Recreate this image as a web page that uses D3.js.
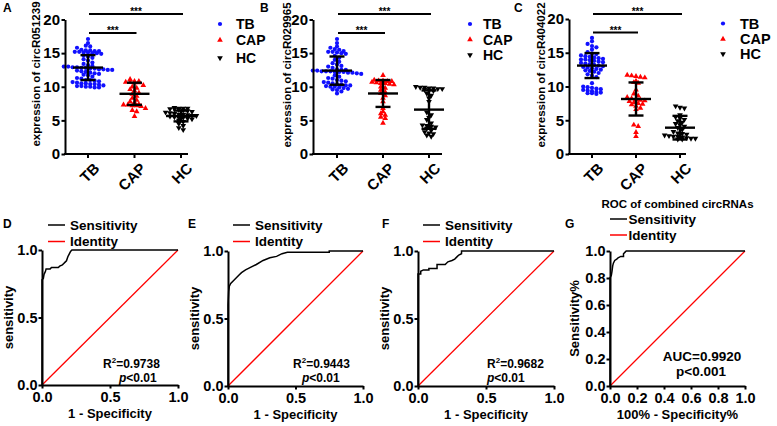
<!DOCTYPE html>
<html><head><meta charset="utf-8">
<script src="https://cdn.jsdelivr.net/npm/d3@7"></script>
<style>
body{margin:0;background:#fff}
svg{display:block}
text{font-family:"Liberation Sans",Arial,sans-serif;font-weight:bold;fill:#000}
</style>
</head><body>
<svg id="c" width="777" height="426"></svg>
<script>
// ---------------- DATA ----------------
const categories = ["TB", "CAP", "HC"];
const genes = ["circR051239", "circR029965", "circR404022"];
const yTicksTop = [0, 5, 10, 15, 20];

const aTB = [17.1,16.5,16.1,16.0,15.8,15.5,15.4,15.4,15.3,15.3,15.2,15.2,15.1,15.1,15.0,15.0,14.9,14.7,14.5,14.3,14.1,13.9,13.6,13.4,13.2,13.1,13.0,13.0,12.9,12.9,12.8,12.8,12.7,12.7,12.6,12.6,12.5,12.5,12.4,12.3,12.2,12.1,12.0,11.9,11.8,11.7,11.5,11.3,11.2,11.0,11.0,10.9,10.8,10.7,10.6,10.5,10.5,10.4,10.4,10.3,10.2,10.1,10.1,10.0,10.0,9.9,9.9];
const aCAP = [11.1,10.8,10.8,10.7,10.7,10.6,10.6,10.2,10.0,9.8,9.6,9.4,9.1,8.9,8.6,8.3,8.0,7.8,7.6,7.4,7.3,7.3,7.2,7.2,7.1,6.8,6.5,6.3,5.6];
const aHC = [6.9,6.8,6.8,6.8,6.7,6.7,6.6,6.5,6.4,6.3,6.2,6.1,6.0,5.9,5.9,5.8,5.7,5.7,5.6,5.5,5.4,5.4,5.3,5.2,5.0,4.8,4.5,4.2,3.9,3.6];

const bTB = [17.1,16.5,16.0,15.8,15.6,15.5,15.3,15.2,15.2,15.1,15.0,14.9,14.6,14.3,14.0,13.7,13.5,13.3,13.1,13.0,12.8,12.6,12.5,12.5,12.4,12.4,12.3,12.3,12.3,12.2,12.2,12.2,12.1,12.1,12.0,11.9,11.7,11.5,11.3,11.2,11.0,10.9,10.8,10.7,10.6,10.5,10.4,10.3,10.2,10.2,10.1,10.0,10.0,9.9,9.8,9.7,9.6,9.5,9.3,9.0];
const bCAP = [11.7,11.0,10.9,10.9,10.8,10.8,10.7,10.6,10.5,10.5,10.4,10.3,10.0,9.8,9.5,9.2,9.0,8.7,8.3,7.8,6.8,6.3,6.0,5.8,5.5,5.3,4.6];
const bHC = [10.0,9.9,9.9,9.8,9.8,9.7,9.7,9.6,9.5,9.4,9.0,8.7,8.3,7.8,6.2,5.8,5.4,5.1,4.6,4.3,4.2,4.1,4.0,3.8,3.5,3.3,3.1,3.0,2.8,2.6];

const cTB = [17.2,16.7,16.3,16.0,15.8,15.5,15.1,14.9,14.8,14.6,14.5,14.4,14.3,14.2,14.1,14.0,14.0,13.9,13.8,13.7,13.6,13.5,13.4,13.3,13.2,13.1,13.0,12.9,12.8,12.7,12.6,12.5,12.4,12.3,12.2,12.0,11.8,11.6,11.4,10.5,10.0,9.9,9.8,9.7,9.6,9.5,9.4,9.3,9.2,9.1,9.0,9.0,8.9];
const cCAP = [11.7,11.6,11.5,11.4,11.3,10.8,10.6,10.5,9.5,8.9,8.6,8.4,8.2,8.1,8.0,7.9,7.8,7.6,7.5,7.4,7.3,7.1,6.8,6.6,4.3,4.1,3.2,2.6];
const cHC = [7.1,6.9,6.8,5.8,5.5,5.3,5.1,4.9,4.7,4.5,4.3,4.1,3.9,3.6,3.3,3.1,3.0,2.9,2.8,2.7,2.6,2.6,2.5,2.4,2.3,2.3,2.2,2.2];

// mean and SD
const meansA = [12.85, 8.95, 5.65], sdsA = [1.85, 1.65, 0.8];
const meansB = [12.4, 9.0, 6.6],   sdsB = [2.1, 2.0, 2.85];
const meansC = [13.1, 8.15, 3.9],  sdsC = [1.85, 2.45, 1.75];
const sigLabels = ["***", "***"];

// ROC curves [1-specificity, sensitivity]
const rocD = [[0,0],[0,0.78],[0.01,0.79],[0.015,0.82],[0.025,0.84],[0.03,0.86],[0.06,0.86],[0.07,0.87],[0.12,0.87],[0.13,0.88],[0.15,0.89],[0.16,0.9],[0.17,0.91],[0.18,0.92],[0.19,0.95],[0.2,0.97],[0.21,0.99],[0.22,1.0],[1,1]];
const rocE = [[0,0],[0,0.6],[0.005,0.7],[0.01,0.74],[0.02,0.76],[0.04,0.78],[0.06,0.8],[0.08,0.82],[0.1,0.84],[0.13,0.86],[0.17,0.88],[0.21,0.9],[0.26,0.93],[0.31,0.95],[0.36,0.96],[0.4,0.98],[0.44,0.99],[0.75,0.99],[0.75,1.0],[1,1]];
const rocF = [[0,0],[0,0.83],[0.02,0.83],[0.02,0.85],[0.04,0.86],[0.08,0.86],[0.08,0.87],[0.14,0.87],[0.14,0.9],[0.2,0.9],[0.22,0.92],[0.25,0.93],[0.27,0.94],[0.29,0.96],[0.3,0.97],[0.32,0.98],[0.32,1.0],[1,1]];
const rocG = [[0,0],[0,0.8],[0.01,0.82],[0.015,0.85],[0.02,0.89],[0.025,0.91],[0.035,0.93],[0.05,0.94],[0.06,0.95],[0.08,0.96],[0.1,0.96],[0.1,0.98],[0.11,0.99],[0.12,1.0],[1,1]];
const identity = [[0,0],[1,1]];
const rocTicks = [0, 0.5, 1.0];
const rocTicksG = [0, 0.2, 0.4, 0.6, 0.8, 1.0];
const r2Values = ["0.9738", "0.9443", "0.9682"];
const pText = "<0.01";
const aucText = "AUC=0.9920";
const pTextG = "p<0.001";
const rocLegend = ["Sensitivity", "Identity"];
const titleG = "ROC of combined circRNAs";

// ---------------- DRAWING ----------------
const svg = d3.select("#c");
const F = '"Liberation Sans",Arial,sans-serif';
const groupColors = ["#1010ff", "#ff0000", "#000000"];

function markerPath(i) {
  if (i === 0) return d3.symbol(d3.symbolCircle, 14)();
  return d3.symbol(d3.symbolTriangle, 14)();
}

function swarm(values, cx, y) {
  const rowH = 3.8, colW = 4.4;
  const pts = values.map(v => ({v, py: y(v)}));
  const bins = d3.group(pts, p => Math.round(p.py / rowH));
  bins.forEach(arr => arr.forEach((p, i) => { p.px = cx + (i - (arr.length - 1) / 2) * colW; }));
  return pts;
}

function drawScatter(L, groups, means, sds, gene, letter) {
  const g = svg.append("g");
  const y = d3.scaleLinear().domain([0, 20]).range([L.yBot, L.yTop]);
  const x = d3.scalePoint().domain(categories).range(L.cat);

  groups.forEach((vals, i) => {
    const pts = swarm(vals, x(categories[i]), y);
    g.append("g").selectAll("path").data(pts).join("path")
      .attr("d", markerPath(i))
      .attr("transform", d => `translate(${d.px},${d.py})` + (i === 2 ? " rotate(180)" : ""))
      .attr("fill", groupColors[i]);
  });
  categories.forEach((c, i) => {
    const cx = x(c), m = means[i], s = sds[i];
    const eb = g.append("g").attr("stroke", "#000").attr("stroke-width", 2.4).attr("fill", "none");
    eb.append("line").attr("x1", cx).attr("x2", cx).attr("y1", y(m - s)).attr("y2", y(m + s));
    eb.append("line").attr("x1", cx - 7.5).attr("x2", cx + 7.5).attr("y1", y(m + s)).attr("y2", y(m + s));
    eb.append("line").attr("x1", cx - 7.5).attr("x2", cx + 7.5).attr("y1", y(m - s)).attr("y2", y(m - s));
    eb.append("line").attr("x1", cx - 15).attr("x2", cx + 15).attr("y1", y(m)).attr("y2", y(m));
  });

  const ya = g.append("g").attr("transform", `translate(${L.x0},0)`)
    .call(d3.axisLeft(y).tickValues(yTicksTop).tickSize(3.5).tickPadding(1.5).tickSizeOuter(0));
  ya.select(".domain").attr("stroke-width", 2);
  ya.selectAll(".tick line").attr("stroke-width", 2);
  ya.selectAll(".tick text").style("font-family", F).style("font-weight", "bold").style("font-size", "15px");

  g.append("line").attr("x1", L.x0 - 1).attr("x2", L.x1).attr("y1", L.yBot).attr("y2", L.yBot)
    .attr("stroke", "#000").attr("stroke-width", 2);
  categories.forEach(c => {
    g.append("line").attr("x1", x(c)).attr("x2", x(c)).attr("y1", L.yBot).attr("y2", L.yBot + 4)
      .attr("stroke", "#000").attr("stroke-width", 2);
    g.append("text").attr("transform", `translate(${x(c) + 5},${L.yBot + 8}) rotate(-45)`)
      .attr("text-anchor", "end").attr("dy", "0.7em").style("font-size", "15px").text(c);
  });

  g.append("text").attr("transform", `translate(${L.ylab[0]},${L.ylab[1]}) rotate(-90)`)
    .attr("text-anchor", "middle").style("font-size", "11.5px").text("expression of " + gene);

  const sig = [[categories[0], categories[2], L.sigY[0]], [categories[0], categories[1], L.sigY[1]]];
  sig.forEach((s, k) => {
    const xa = x(s[0]) + 1, xb = x(s[1]) + 2;
    g.append("line").attr("x1", xa).attr("x2", xb).attr("y1", s[2]).attr("y2", s[2])
      .attr("stroke", "#000").attr("stroke-width", 2);
    g.append("text").attr("x", (xa + xb) / 2).attr("y", s[2] + 1).attr("text-anchor", "middle")
      .style("font-size", "10px").text(sigLabels[k]);
  });

  categories.forEach((c, i) => {
    g.append("path").attr("d", markerPath(i))
      .attr("transform", `translate(${L.leg.mx},${L.leg.ys[i]})` + (i === 2 ? " rotate(180)" : ""))
      .attr("fill", groupColors[i]);
    g.append("text").attr("x", L.leg.tx).attr("y", L.leg.ys[i]).attr("dy", "0.36em")
      .style("font-size", L.leg.fs + "px").text(c);
  });

  g.append("text").attr("x", L.letter[0]).attr("y", L.letter[1]).style("font-size", "12px").text(letter);
}

const topLayouts = [
  {x0: 65, x1: 188, cat: [88, 181], yTop: 19.5, yBot: 154, ylab: [39.5, 74], sigY: [14, 33],
   leg: {mx: 220, tx: 236, ys: [24, 40, 58], fs: 14}, letter: [3, 12]},
  {x0: 313, x1: 442, cat: [337, 429], yTop: 19.5, yBot: 154, ylab: [291, 75], sigY: [14, 33],
   leg: {mx: 470, tx: 483, ys: [24, 39.5, 55], fs: 14}, letter: [260, 12]},
  {x0: 569, x1: 686, cat: [592, 680], yTop: 19, yBot: 154, ylab: [544.5, 75], sigY: [14, 32.5],
   leg: {mx: 723, tx: 740, ys: [23.5, 39, 54], fs: 14.5}, letter: [514, 12]}
];

drawScatter(topLayouts[0], [aTB, aCAP, aHC], meansA, sdsA, genes[0], "A");
drawScatter(topLayouts[1], [bTB, bCAP, bHC], meansB, sdsB, genes[1], "B");
drawScatter(topLayouts[2], [cTB, cCAP, cHC], meansC, sdsC, genes[2], "C");

function drawROC(L, data, ticks, opts) {
  const g = svg.append("g");
  const x = d3.scaleLinear().domain([0, 1]).range([L.x0, L.x1]);
  const y = d3.scaleLinear().domain([0, 1]).range([L.yBot, L.yTop]);
  const line = d3.line().x(d => x(d[0])).y(d => y(d[1]));

  g.append("path").attr("d", line(identity)).attr("stroke", "#ff0000").attr("stroke-width", 1.3).attr("fill", "none");
  g.append("path").attr("d", line(data)).attr("stroke", "#000").attr("stroke-width", 1.5).attr("fill", "none");

  const fmt = d3.format(".1f");
  const ya = g.append("g").attr("transform", `translate(${L.x0},0)`)
    .call(d3.axisLeft(y).tickValues(ticks).tickFormat(fmt).tickSize(3.5).tickPadding(1).tickSizeOuter(0));
  const xa = g.append("g").attr("transform", `translate(0,${L.yBot})`)
    .call(d3.axisBottom(x).tickValues(ticks).tickFormat(fmt).tickSize(3.5).tickPadding(3).tickSizeOuter(0));
  [ya, xa].forEach(a => {
    a.select(".domain").attr("stroke-width", 2);
    a.selectAll(".tick line").attr("stroke-width", 2);
    a.selectAll(".tick text").style("font-family", F).style("font-weight", "bold").style("font-size", "14.5px");
  });

  g.append("text").attr("x", (L.x0 + L.x1) / 2).attr("y", L.yBot + 33).attr("text-anchor", "middle")
    .style("font-size", "13px").text(opts.xTitle);
  g.append("text").attr("transform", `translate(${L.x0 + opts.yTitleOff},${(L.yTop + L.yBot) / 2}) rotate(-90)`)
    .attr("text-anchor", "middle").style("font-size", "13px").text(opts.yTitle);

  const colors = ["#000", "#ff0000"];
  rocLegend.forEach((t, i) => {
    const ly = L.legY[i];
    g.append("line").attr("x1", L.legX[0]).attr("x2", L.legX[1]).attr("y1", ly).attr("y2", ly)
      .attr("stroke", colors[i]).attr("stroke-width", 1.5);
    g.append("text").attr("x", L.legX[2]).attr("y", ly).attr("dy", "0.36em").style("font-size", "13.5px").text(t);
  });

  g.append("text").attr("x", L.letter[0]).attr("y", L.letter[1]).style("font-size", "12px").text(opts.letter);
  return g;
}

const rocLayouts = [
  {x0: 42, x1: 178, yTop: 250, yBot: 385, legX: [48, 65, 70], legY: [225, 241.5], letter: [3, 228], ann: [103, 119]},
  {x0: 228, x1: 363, yTop: 251, yBot: 386, legX: [233, 250, 255], legY: [225, 241.5], letter: [188, 228], ann: [293, 302]},
  {x0: 418, x1: 554, yTop: 251, yBot: 386, legX: [423, 440, 445], legY: [225, 241.5], letter: [382, 228], ann: [487, 487]},
  {x0: 610, x1: 745, yTop: 251, yBot: 386, legX: [610, 627, 628.5], legY: [219, 235], letter: [565, 228]}
];
const rocData = [rocD, rocE, rocF];
const rocLetters = ["D", "E", "F"];
rocData.forEach((d, i) => {
  const L = rocLayouts[i];
  const g = drawROC(L, d, rocTicks, {xTitle: "1 - Specificity", yTitle: "sensitivity", yTitleOff: -29.5, letter: rocLetters[i]});
  const t = g.append("text").attr("x", L.ann[0]).attr("y", 367.5).style("font-size", "12px");
  t.append("tspan").text("R");
  t.append("tspan").attr("dy", -5).style("font-size", "8px").text("2");
  t.append("tspan").attr("dy", 5).text("=" + r2Values[i]);
  const p = g.append("text").attr("x", L.ann[1]).attr("y", 382).style("font-size", "12px");
  p.append("tspan").style("font-style", "italic").text("p");
  p.append("tspan").text(pText);
});
const LG = rocLayouts[3];
const gG = drawROC(LG, rocG, rocTicksG, {xTitle: "100% - Specificity%", yTitle: "Sensitivity%", yTitleOff: -31, letter: "G"});
gG.append("text").attr("x", (LG.x0 + LG.x1) / 2).attr("y", 208).attr("text-anchor", "middle").style("font-size", "11.5px").text(titleG);
gG.append("text").attr("x", 702).attr("y", 361).attr("text-anchor", "middle").style("font-size", "13.5px").text(aucText);
gG.append("text").attr("x", 701).attr("y", 376).attr("text-anchor", "middle").style("font-size", "13.5px").text(pTextG);
</script>
</body></html>
